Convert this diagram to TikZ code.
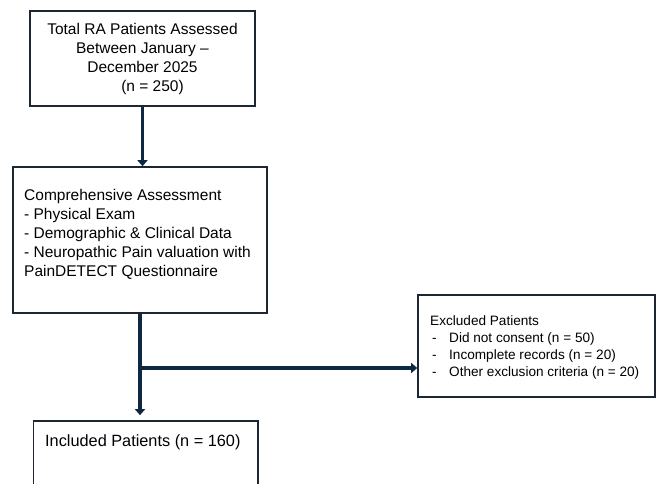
\documentclass[tikz,border=0pt]{standalone}
\usepackage{fontspec}
\setmainfont{Liberation Sans}
\usetikzlibrary{arrows.meta}
\definecolor{navy}{HTML}{0E2841}
\definecolor{edgec}{HTML}{1C2733}
\begin{document}
\begin{tikzpicture}[x=1pt,y=-1pt,
  box/.style={draw=edgec,line width=1.6pt,fill=white,inner sep=0pt},
  flow/.style={draw=navy,line width=3.8pt,-{Triangle[width=10pt,length=6pt]}},
  big/.style={font=\fontsize{15.5}{19}\selectfont},
  small/.style={font=\fontsize{13.6}{17}\selectfont}]
\useasboundingbox (0,0) rectangle (657,484);
\clip (0,0) rectangle (657,484);
\fill[white] (0,0) rectangle (657,484);

\node[box,big,minimum width=225pt,minimum height=95pt,align=center] (b1) at (142.5,58.5)
  {Total RA Patients Assessed\\Between January --\\December 2025\\\hspace{20pt}(n = 250)};

\node[box,minimum width=254pt,minimum height=146pt] (b2) at (140,240) {};
\node[big,align=left,anchor=north west,inner sep=0pt] (t2) at (24,189)
  {Comprehensive Assessment\\- Physical Exam\\- Demographic \& Clinical Data\\- Neuropathic Pain valuation with\\PainDETECT Questionnaire};

\node[box,minimum width=237pt,minimum height=102pt] (exc) at (536.5,346) {};
\node[small,align=left,anchor=north west,inner sep=0pt] (t3) at (430,315)
  {Excluded Patients\\\makebox[19pt][l]{\hspace{2pt}-}Did not consent (n = 50)\\\makebox[19pt][l]{\hspace{2pt}-}Incomplete records (n = 20)\\\makebox[19pt][l]{\hspace{2pt}-}Other exclusion criteria (n = 20)};

\node[box,minimum width=224.5pt,minimum height=79pt] (inc) at (145.75,460.5) {};
\node[font=\fontsize{16.3}{19}\selectfont,anchor=west,inner sep=0pt] (t4) at (45,442) {Included Patients (n = 160)};

\draw[flow] (b1.south) -- (b1.south |- b2.north);
\draw[flow,shorten >=5pt] (b2.south) -- (b2.south |- inc.north);
\coordinate (br) at (b2.south |- 0,368);
\draw[flow] (br) -- (br -| exc.west);
\end{tikzpicture}
\end{document}
